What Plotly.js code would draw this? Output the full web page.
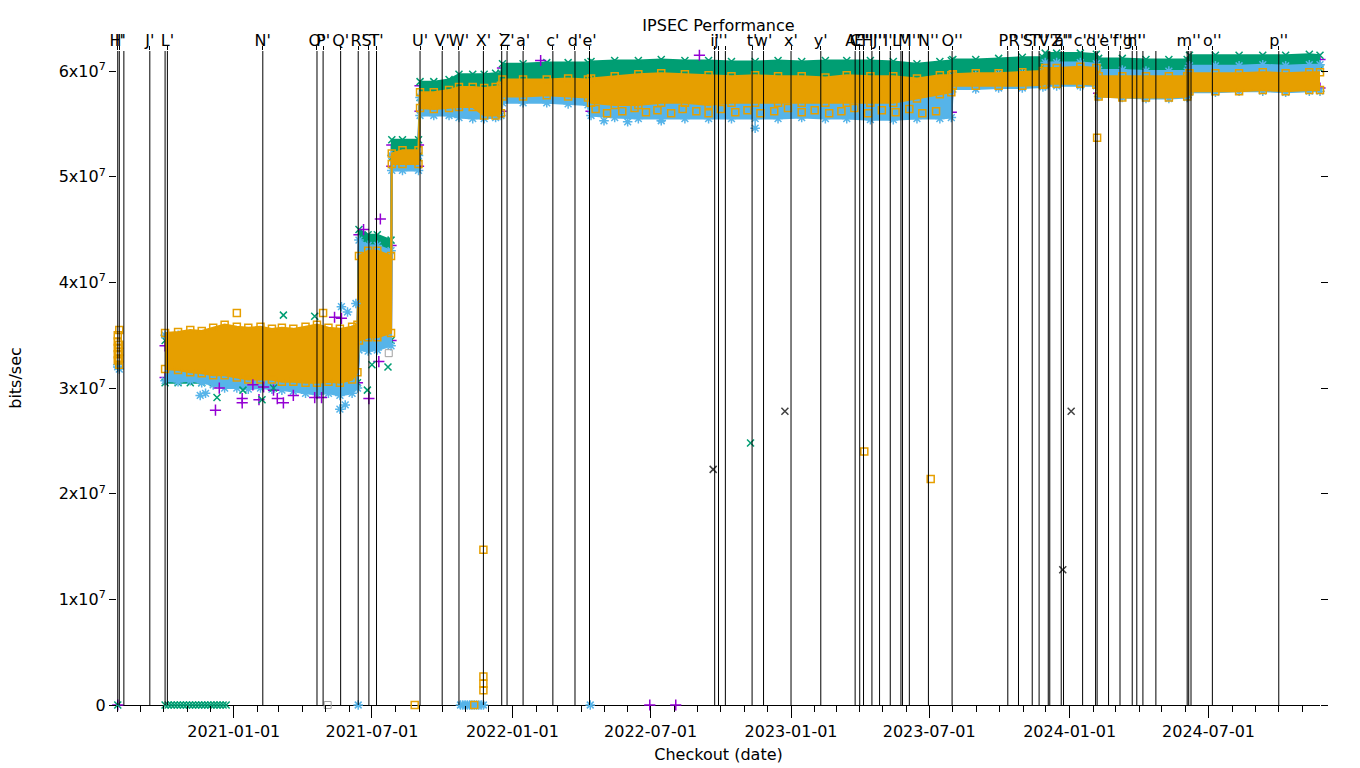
<!DOCTYPE html>
<html><head><meta charset="utf-8">
<script src="https://cdn.plot.ly/plotly-3.0.1.min.js"></script>
<style>html,body{margin:0;padding:0;background:#fff}</style>
</head><body><div id="chart" style="width:1360px;height:768px"></div>
<script>
// values in units of 1e7 bits/sec
const UNIT = 1e7;

// dates at which the dense point clouds were sampled
const bandDates = ['2020-10-03','2020-10-20','2020-11-05','2020-11-20','2020-12-05','2020-12-20','2021-01-05','2021-01-20','2021-02-05','2021-02-20','2021-03-05','2021-03-20','2021-04-05','2021-04-20','2021-05-05','2021-05-20','2021-06-05','2021-06-12',
'2021-06-14','2021-06-26','2021-07-08','2021-07-26',
'2021-07-27','2021-08-10','2021-08-31',
'2021-09-02','2021-09-20','2021-10-10','2021-10-23','2021-11-10','2021-11-25','2021-12-10','2021-12-17',
'2021-12-19','2022-01-15','2022-02-15','2022-03-15','2022-04-10','2022-04-14','2022-05-15','2022-06-15','2022-07-15','2022-08-15','2022-09-15','2022-10-15','2022-11-15','2022-12-15',
'2023-01-15','2023-02-15','2023-03-15','2023-04-15','2023-05-15','2023-06-15','2023-07-15','2023-07-30','2023-08-01','2023-08-31','2023-09-30','2023-10-31','2023-11-27','2023-11-30','2023-12-15',
'2024-01-15','2024-02-05','2024-02-08','2024-03-10','2024-04-10','2024-05-10','2024-06-03','2024-06-06','2024-07-10','2024-08-10','2024-09-10','2024-10-10','2024-11-10','2024-11-24'];

const purpleHi = [3.40,3.40,3.40,3.40,3.40,3.40,3.40,3.40,3.40,3.40,3.40,3.40,3.40,3.40,3.40,3.40,3.40,3.40,
4.45,4.40,4.40,4.35, 5.30,5.30,5.30, 5.86,5.86,5.88,5.93,5.93,5.93,5.94,5.94,
6.03,6.03,6.04,6.04,6.04,6.05,6.06,6.06,6.07,6.06,6.06,6.05,6.05,6.06,
6.05,6.06,6.06,6.06,6.05,6.03,6.05,6.06,6.07,6.07,6.08,6.09,6.09,6.13,6.13,
6.13,6.12,6.08,6.08,6.07,6.07,6.07,6.11,6.11,6.11,6.11,6.11,6.12,6.11];
const purpleLo = [3.10,3.10,3.10,3.10,3.08,3.05,3.05,3.04,3.05,3.04,3.03,3.02,3.00,2.99,3.00,2.98,3.00,3.05,
3.40,3.40,3.41,3.45, 5.10,5.10,5.10, 5.62,5.62,5.62,5.60,5.60,5.60,5.61,5.62,
5.74,5.74,5.74,5.73,5.72,5.62,5.60,5.60,5.60,5.60,5.60,5.60,5.60,5.60,
5.61,5.60,5.60,5.59,5.59,5.60,5.60,5.61,5.86,5.86,5.87,5.87,5.88,5.89,5.89,
5.89,5.89,5.79,5.78,5.77,5.77,5.78,5.83,5.83,5.84,5.84,5.83,5.84,5.84];

const greenHi = [3.45,3.45,3.45,3.45,3.45,3.45,3.45,3.45,3.45,3.45,3.45,3.45,3.45,3.45,3.45,3.45,3.45,3.45,
4.50,4.45,4.45,4.40, 5.35,5.35,5.35, 5.90,5.90,5.92,5.97,5.97,5.97,5.98,5.98,
6.07,6.07,6.08,6.08,6.08,6.09,6.10,6.10,6.11,6.10,6.10,6.09,6.09,6.10,
6.09,6.10,6.10,6.10,6.09,6.07,6.09,6.10,6.11,6.11,6.12,6.13,6.13,6.17,6.17,
6.17,6.16,6.12,6.12,6.11,6.11,6.11,6.15,6.15,6.15,6.15,6.15,6.16,6.15];
const greenLo = [3.05,3.05,3.05,3.05,3.05,3.05,3.05,3.05,3.05,3.05,3.05,3.05,3.05,3.05,3.05,3.05,3.05,3.05,
3.40,3.40,3.42,3.45, 5.18,5.18,5.18, 5.75,5.75,5.76,5.80,5.80,5.80,5.80,5.80,
5.90,5.90,5.90,5.90,5.90,5.92,5.92,5.92,5.93,5.93,5.93,5.93,5.92,5.92,
5.92,5.92,5.92,5.92,5.92,5.92,5.93,5.93,5.96,5.96,5.97,5.98,5.98,6.02,6.02,
6.02,6.02,5.98,5.97,5.97,5.97,5.97,6.02,6.02,6.02,6.02,6.02,6.02,6.02];

const blueHi = [3.50,3.50,3.50,3.50,3.50,3.50,3.50,3.50,3.50,3.50,3.50,3.50,3.50,3.50,3.50,3.50,3.55,3.55,
4.40,4.35,4.35,4.30, 5.20,5.20,5.20, 5.75,5.75,5.78,5.80,5.80,5.80,5.80,5.80,
5.85,5.85,5.85,5.85,5.85,5.85,5.85,5.85,5.85,5.85,5.85,5.85,5.85,5.85,
5.85,5.85,5.85,5.85,5.85,5.85,5.85,5.85,5.95,5.96,5.97,5.98,5.99,6.08,6.08,
6.08,6.07,6.01,6.01,6.00,6.00,6.00,6.05,6.05,6.05,6.06,6.05,6.06,6.06];
const blueLo = [3.07,3.06,3.07,3.05,3.03,3.00,3.00,2.99,3.00,2.99,2.98,2.97,2.95,2.94,2.95,2.93,2.95,3.00,
3.36,3.35,3.36,3.40, 5.06,5.06,5.06, 5.58,5.58,5.58,5.56,5.55,5.55,5.56,5.58,
5.70,5.70,5.70,5.69,5.68,5.58,5.56,5.55,5.55,5.55,5.55,5.55,5.55,5.55,
5.56,5.55,5.55,5.54,5.54,5.55,5.55,5.56,5.83,5.83,5.84,5.84,5.85,5.86,5.86,
5.86,5.86,5.76,5.75,5.74,5.74,5.75,5.80,5.80,5.81,5.81,5.80,5.81,5.81];

const orangeHi = [3.52,3.53,3.55,3.54,3.57,3.60,3.58,3.57,3.58,3.56,3.57,3.56,3.58,3.60,3.57,3.56,3.58,3.60,
4.25,4.30,4.30,4.25, 5.22,5.25,5.25, 5.80,5.80,5.82,5.85,5.85,5.84,5.85,5.86,
5.92,5.92,5.92,5.93,5.92,5.93,5.95,5.97,5.98,5.97,5.96,5.95,5.96,5.95,
5.95,5.94,5.96,5.95,5.95,5.93,5.96,5.96,5.97,5.98,5.98,5.99,6.00,6.03,6.03,
6.04,6.03,5.95,5.95,5.95,5.95,5.95,5.98,5.98,5.98,5.99,5.98,5.99,5.99];
const orangeLo = [3.18,3.17,3.15,3.14,3.12,3.12,3.10,3.08,3.08,3.08,3.06,3.06,3.05,3.05,3.06,3.05,3.08,3.15,
3.45,3.48,3.48,3.52, 5.12,5.12,5.12, 5.65,5.64,5.65,5.66,5.66,5.58,5.58,5.60,
5.76,5.76,5.77,5.76,5.75,5.70,5.68,5.68,5.70,5.70,5.68,5.70,5.70,5.70,
5.70,5.70,5.70,5.70,5.70,5.74,5.78,5.80,5.86,5.86,5.86,5.86,5.87,5.88,5.88,
5.88,5.87,5.76,5.75,5.75,5.75,5.76,5.81,5.81,5.81,5.82,5.81,5.82,5.82];

// isolated points
const purplePtsX = ['2020-08-02','2020-12-08','2020-12-13','2021-01-12','2021-01-12','2021-02-03','2021-02-27','2021-03-07','2021-03-20','2021-01-26','2021-02-09','2021-02-22','2021-04-17','2021-04-26','2021-05-13','2021-05-22','2021-06-27','2021-07-10','2021-07-12','2021-06-20','2022-02-07','2022-09-03','2022-06-30','2022-08-03'];
const purplePtsY = [0,2.79,3.00,2.90,2.86,2.89,2.90,2.86,2.93,3.03,3.01,2.98,2.91,2.91,3.67,3.66,2.90,3.25,4.60,4.50,6.10,6.15,0,0];

const greenPtsX = ['2020-08-02','2020-10-03','2020-10-07','2020-10-11','2020-10-15','2020-10-19','2020-10-23','2020-10-27','2020-10-31','2020-11-04','2020-11-08','2020-11-12','2020-11-16','2020-11-20','2020-11-24','2020-11-28','2020-12-02','2020-12-06','2020-12-10','2020-12-14','2020-12-18','2020-12-22',
'2020-12-10','2021-01-13','2021-02-07','2021-03-07','2021-02-22','2021-06-25','2021-07-22','2021-07-01','2021-04-17','2022-11-09'];
const greenPtsY = [0,0,0,0,0,0,0,0,0,0,0,0,0,0,0,0,0,0,0,0,0,0,
2.91,2.98,2.89,3.69,3.00,2.98,3.20,3.22,3.68,2.48];

const bluePtsX = ['2020-08-02','2020-08-02','2020-08-04','2021-06-13','2021-10-25','2021-10-28','2021-10-31','2021-11-03','2021-11-06','2021-11-09','2021-11-12','2021-11-15','2021-11-18','2021-11-21','2021-11-24','2022-04-13',
'2021-05-22','2021-05-30','2021-06-10','2022-11-15','2022-05-01','2022-06-01','2022-07-15','2020-11-18','2020-11-25','2021-05-20','2021-05-27'];
const bluePtsY = [3.20,3.22,3.18,0,0,0,0,0,0,0,0,0,0,0,0,0,
3.77,3.72,3.80,5.46,5.53,5.52,5.53,2.93,2.95,2.80,2.84];

const orangePtsX = ['2020-08-02','2020-08-02','2020-08-02','2020-08-02','2020-08-02','2020-08-04','2020-08-04','2020-08-04','2020-08-04','2020-08-04',
'2021-08-26','2021-11-12','2021-11-24','2021-11-24','2021-11-24','2021-11-24','2023-04-07','2023-07-03','2024-02-06','2021-01-05','2021-04-28',
'2022-04-20','2022-05-05','2022-05-25','2022-06-10','2022-06-25','2022-07-10','2022-07-28','2022-08-12','2022-08-30','2022-09-15','2022-10-01','2022-10-20','2022-11-05','2022-11-22','2022-12-10','2022-12-28','2023-01-15','2023-02-01','2023-02-20','2023-03-08','2023-03-25','2023-04-12','2023-04-30','2023-05-18','2023-06-05','2023-06-22','2023-07-10'];
const orangePtsY = [3.50,3.44,3.38,3.32,3.26,3.55,3.41,3.34,3.28,3.22,
0,0,1.47,0.27,0.20,0.14,2.40,2.14,5.37,3.71,3.71,
5.64,5.60,5.62,5.65,5.61,5.63,5.60,5.64,5.62,5.60,5.64,5.61,5.63,5.60,5.62,5.65,5.61,5.63,5.60,5.62,5.65,5.60,5.63,5.61,5.64,5.60,5.62];

const blackPtsX = ['2022-09-21','2022-12-24','2024-01-03','2023-12-23'];
const blackPtsY = [2.23,2.78,2.78,1.28];
const greyPtsX = ['2021-07-23','2021-05-04'];
const greyPtsY = [3.33,0];

// commit markers (vertical lines) and their labels on the top axis ('' = no label shown)
const eventDates = ['2020-08-02','2020-08-04','2020-08-10','2020-09-13','2020-10-03','2020-10-06','2021-02-08','2021-04-20','2021-04-28','2021-05-21','2021-06-13','2021-06-27','2021-07-07',
'2021-09-02','2021-10-01','2021-10-23','2021-11-24','2021-12-18','2021-12-25','2022-01-15','2022-02-23','2022-03-24','2022-04-12',
'2022-09-23','2022-09-28','2022-10-07','2022-11-11','2022-11-26','2023-01-01','2023-02-09',
'2023-03-26','2023-04-01','2023-04-06','2023-04-17','2023-04-27','2023-05-11','2023-05-25','2023-05-27','2023-06-05','2023-06-30','2023-07-31',
'2023-10-12','2023-10-26','2023-11-13','2023-11-22','2023-12-04','2023-12-06','2023-12-21','2023-12-24','2024-01-18','2024-02-04','2024-02-06','2024-02-21','2024-03-07','2024-03-23','2024-03-29','2024-04-06','2024-04-23',
'2024-06-03','2024-06-05','2024-06-08','2024-07-06','2024-10-01'];
const eventLabels = ["H'","I'","","J'","","L'","N'","O'","P'","Q'","R'","S'","T'",
"U'","V'","W'","X'","`","Z'","a'","c'","d'","e'",
"i'","j'","'","t'","w'","x'","y'",
"A''","C''","E''","H''","J''","I''","L''","","M''","N''","O''",
"P''","R''","S''","T''","V''","","Z''","a''","c''","d''","","e''","f''","g''","h''","","",
"","m''","","o''","p''"];

const yTickVals = [0,1,2,3,4,5,6];
const yTickText = ['0','1x10<sup>7</sup>','2x10<sup>7</sup>','3x10<sup>7</sup>','4x10<sup>7</sup>','5x10<sup>7</sup>','6x10<sup>7</sup>'];

const X_RANGE = ['2020-08-01','2024-11-24'];
const Y_MAX = 6.19;

const COLORS = {purple:'#9400d3', green:'#009e73', blue:'#56b4e9', orange:'#e69f00'};
const SYMBOLS = {purple:'cross-thin-open', green:'x-thin-open', blue:'asterisk-open', orange:'square-open'};
const SIZES = {purple:8, green:7, blue:8, orange:7};

function scale(a){ return a.map(v => v == null ? null : v * UNIT); }

function bandTraces(name, hi, lo){
  const xs = [], ys = [];
  for (let i = 0; i < bandDates.length; i++){ xs.push(bandDates[i]); ys.push(hi[i]*UNIT); }
  for (let i = bandDates.length-1; i >= 0; i--){ xs.push(bandDates[i]); ys.push(lo[i]*UNIT); }
  return [
    {type:'scatter', mode:'lines', x:xs, y:ys, fill:'toself', fillcolor:COLORS[name],
     line:{color:COLORS[name], width:2}, hoverinfo:'skip', showlegend:false, cliponaxis:false},
    {type:'scatter', mode:'markers', x:bandDates.concat(bandDates), y:scale(hi.concat(lo)),
     marker:{symbol:SYMBOLS[name], size:SIZES[name], color:COLORS[name], line:{width:1.5, color:COLORS[name]}},
     hoverinfo:'skip', showlegend:false, cliponaxis:false}
  ];
}
function ptsTrace(name, xs, ys){
  return {type:'scatter', mode:'markers', x:xs, y:scale(ys),
    marker:{symbol:SYMBOLS[name], size:SIZES[name], color:COLORS[name], line:{width:1.5, color:COLORS[name]}},
    hoverinfo:'skip', showlegend:false, cliponaxis:false};
}

// vertical commit lines
const lx = [], ly = [];
eventDates.forEach(d => { lx.push(d, d, null); ly.push(0, Y_MAX*UNIT, null); });
// labelled commits only
const labVals = [], labText = [];
eventDates.forEach((d, i) => { if (eventLabels[i]) { labVals.push(d); labText.push(eventLabels[i]); } });

const traces = [
  {type:'scatter', mode:'lines', x:lx, y:ly, xaxis:'x2', line:{color:'#000', width:1}, hoverinfo:'skip', showlegend:false},
  ...bandTraces('purple', purpleHi, purpleLo),
  ...bandTraces('green', greenHi, greenLo),
  ...bandTraces('blue', blueHi, blueLo),
  ...bandTraces('orange', orangeHi, orangeLo),
  ptsTrace('purple', purplePtsX, purplePtsY),
  ptsTrace('green', greenPtsX, greenPtsY),
  ptsTrace('blue', bluePtsX, bluePtsY),
  ptsTrace('orange', orangePtsX, orangePtsY),
  {type:'scatter', mode:'markers', x:blackPtsX, y:scale(blackPtsY), marker:{symbol:'x-thin-open', size:7, color:'#404040', line:{width:1.5,color:'#404040'}}, hoverinfo:'skip', showlegend:false, cliponaxis:false},
  {type:'scatter', mode:'markers', x:greyPtsX, y:scale(greyPtsY), marker:{symbol:'square-open', size:7, color:'#a0a0a0', line:{width:1,color:'#a0a0a0'}}, hoverinfo:'skip', showlegend:false, cliponaxis:false}
];

const FONT = {family:'DejaVu Sans, sans-serif', size:16, color:'#000'};

const layout = {
  width:1360, height:768,
  margin:{l:117, r:40, t:51, b:63, pad:0},
  paper_bgcolor:'#fff', plot_bgcolor:'#fff',
  font:FONT,
  showlegend:false,
  title:{text:'IPSEC Performance', font:FONT, x:0.5, xref:'paper', xanchor:'center', y:1-25/768, yref:'container', yanchor:'middle'},
  xaxis:{type:'date', range:X_RANGE, tick0:'2021-01-01', dtick:'M6', tickformat:'%Y-%m-%d',
    ticks:'outside', ticklen:12, tickwidth:1, tickcolor:'#000', showgrid:false, zeroline:false, showline:false,
    minor:{dtick:'M1', tick0:'2020-08-01', ticks:'outside', ticklen:6, tickwidth:1, tickcolor:'#000', showgrid:false},
    tickfont:FONT, title:{text:'Checkout (date)', font:FONT, standoff:8}},
  xaxis2:{type:'date', range:X_RANGE, overlaying:'x', side:'top', anchor:'y', tickmode:'array',
    tickvals:labVals, ticktext:labText, tickangle:0, ticks:'outside', ticklen:4, tickcolor:'#000',
    ticklabelstandoff:-6, showgrid:false, zeroline:false, showline:false, tickfont:FONT},
  xaxis3:{type:'date', range:X_RANGE, overlaying:'x', side:'top', anchor:'y', tick0:'2020-08-01', dtick:'M1',
    ticks:'outside', ticklen:4, tickcolor:'#000', showticklabels:false, showgrid:false, zeroline:false, showline:false},
  yaxis:{range:[0, Y_MAX*UNIT], tickmode:'array', tickvals:scale(yTickVals), ticktext:yTickText,
    ticks:'outside', ticklen:7, tickcolor:'#000', mirror:'ticks', showline:false, showgrid:false,
    zeroline:true, zerolinecolor:'#000', zerolinewidth:1, tickfont:FONT,
    title:{text:'bits/sec', font:FONT, standoff:33}}
};

Plotly.newPlot('chart', traces, layout, {displayModeBar:false, staticPlot:true});
</script>
</body></html>
